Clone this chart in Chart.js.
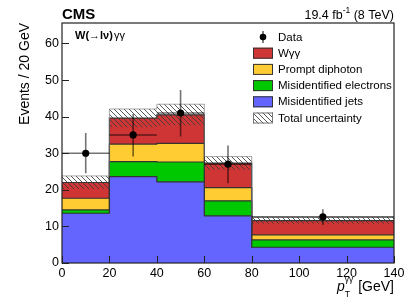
<!DOCTYPE html>
<html><head><meta charset="utf-8">
<script src="https://cdn.jsdelivr.net/npm/chart.js@4/dist/chart.umd.min.js"></script>
<style>html,body{margin:0;padding:0;background:#fff;}#wrap{width:415px;height:303px;}</style>
</head><body><div id="wrap"><canvas id="c" width="415" height="303"></canvas></div>
<script>
// ---- data ----
const binEdges = [0, 20, 40, 60, 80, 140];
const binCenters = [10, 30, 50, 70, 110];
const misidJets = [13.6, 23.6, 22.2, 12.9, 4.3];
const misidElectrons = [0.9, 4.1, 5.4, 4.1, 2.0];
const promptDiphoton = [3.2, 4.8, 5.1, 3.6, 1.4];
const wgg = [4.3, 7.1, 7.8, 6.7, 3.9];
const totalUnc = [1.8, 2.5, 2.9, 1.8, 0.9];
const dataY = [30.0, 35.0, 41.0, 27.0, 12.6];
const dataErrUp = [5.5, 5.7, 6.3, 5.1, 2.1];
const dataErrDown = [5.5, 5.9, 6.4, 5.2, 2.2];
const xTickStep = 20;
const yTickStep = 10;
const yMax = 65.6;
const legendLabels = ['Data', 'W\u03b3\u03b3', 'Prompt diphoton', 'Misidentified electrons', 'Misidentified jets', 'Total uncertainty'];

const colors = { wgg: '#d03535', prompt: '#ffcc33', ele: '#00c800', jets: '#6464ff' };
const FONT = '"Liberation Sans", Arial, Helvetica, sans-serif';

// cumulative stacks
const c1 = misidJets.slice();
const c2 = c1.map((v, i) => v + misidElectrons[i]);
const c3 = c2.map((v, i) => v + promptDiphoton[i]);
const c4 = c3.map((v, i) => v + wgg[i]);
const hi = c4.map((v, i) => v + totalUnc[i]);
const lo = c4.map((v, i) => v - totalUnc[i]);
const steps = vals => binEdges.map((x, i) => ({ x: x, y: vals[Math.min(i, vals.length - 1)] }));

const canvas = document.getElementById('c');
const ctx0 = canvas.getContext('2d');
function makeHatch(color) {
  const s = 5, c = document.createElement('canvas');
  c.width = s; c.height = s;
  const g = c.getContext('2d');
  g.strokeStyle = color; g.lineWidth = 1;
  g.beginPath();
  g.moveTo(-1, -1); g.lineTo(s + 1, s + 1);
  g.moveTo(-1, s - 1); g.lineTo(1, s + 1);
  g.moveTo(s - 1, -1); g.lineTo(s + 1, 1);
  g.stroke();
  return ctx0.createPattern(c, 'repeat');
}
const hatch = makeHatch('rgba(60,60,60,0.85)');

const histDs = (label, vals, color, order) => ({
  label: label, data: steps(vals), stepped: true, fill: 'origin',
  backgroundColor: color, borderColor: '#333', borderWidth: 1.2,
  pointRadius: 0, order: order
});

const errorBars = {
  id: 'errorBars',
  beforeDatasetDraw(chart, args) {
    if (args.index !== 0) return;
    const x = chart.scales.x, y = chart.scales.y, ctx = chart.ctx;
    ctx.save();
    ctx.strokeStyle = 'rgba(0,0,0,0.55)';
    ctx.lineWidth = 1.6;
    ctx.beginPath();
    for (let i = 0; i < dataY.length; i++) {
      const px = x.getPixelForValue(binCenters[i]);
      const py = y.getPixelForValue(dataY[i]);
      ctx.moveTo(x.getPixelForValue(binEdges[i]), py);
      ctx.lineTo(x.getPixelForValue(binEdges[i + 1]), py);
      ctx.moveTo(px, y.getPixelForValue(dataY[i] + dataErrUp[i]));
      ctx.lineTo(px, y.getPixelForValue(dataY[i] - dataErrDown[i]));
    }
    ctx.stroke();
    ctx.restore();
  }
};

const decor = {
  id: 'decor',
  afterDraw(chart) {
    const ctx = chart.ctx, a = chart.chartArea, xs = chart.scales.x, ys = chart.scales.y;
    ctx.save();
    // inward ticks
    ctx.strokeStyle = '#222'; ctx.lineWidth = 1;
    ctx.beginPath();
    for (let v = 0; v <= 140; v += xTickStep) {
      const px = Math.round(xs.getPixelForValue(v)) + 0.5;
      ctx.moveTo(px, a.bottom); ctx.lineTo(px, a.bottom - 7);
    }
    for (let v = 0; v <= 60; v += yTickStep) {
      const py = Math.round(ys.getPixelForValue(v)) + 0.5;
      ctx.moveTo(a.left, py); ctx.lineTo(a.left + 7, py);
    }
    ctx.stroke();
    // frame
    ctx.strokeStyle = '#222'; ctx.lineWidth = 1.2;
    ctx.strokeRect(a.left, a.top, a.right - a.left, a.bottom - a.top);

    // header
    ctx.fillStyle = '#000';
    ctx.textBaseline = 'alphabetic';
    ctx.font = 'bold 15px ' + FONT;
    ctx.textAlign = 'left';
    ctx.fillText('CMS', a.left, 19);
    // lumi
    ctx.font = '12.5px ' + FONT;
    const t3 = ' (8 TeV)';
    const w3 = ctx.measureText(t3).width;
    ctx.font = '8.5px ' + FONT;
    const w2 = ctx.measureText('-1').width;
    ctx.font = '12.5px ' + FONT;
    const t1 = '19.4 fb';
    const w1 = ctx.measureText(t1).width;
    let lx = a.right - w3 - w2 - w1;
    ctx.fillText(t1, lx, 19);
    ctx.font = '8.5px ' + FONT;
    ctx.fillText('-1', lx + w1, 13);
    ctx.font = '12.5px ' + FONT;
    ctx.fillText(t3, lx + w1 + w2, 19);

    // process label
    ctx.font = 'bold 11px ' + FONT;
    const pl = 'W(\u2192l\u03bd)';
    ctx.fillText(pl, 75, 39);
    const pw = ctx.measureText(pl).width;
    ctx.font = '11px ' + FONT;
    ctx.fillText('\u03b3\u03b3', 75 + pw + 1, 39);

    // y-axis title
    ctx.save();
    ctx.translate(29, a.top);
    ctx.rotate(-Math.PI / 2);
    ctx.font = '14px ' + FONT;
    ctx.textAlign = 'right';
    ctx.fillText('Events / 20 GeV', 0, 0);
    ctx.restore();

    // x-axis title: p_T^{γγ} [GeV]
    ctx.font = '14px ' + FONT;
    const g = ' [GeV]';
    const gw = ctx.measureText(g).width;
    const gx = a.right - gw;
    ctx.fillText(g, gx, 291);
    ctx.font = '8.5px ' + FONT;
    const supw = ctx.measureText('\u03b3\u03b3').width;
    ctx.fillText('\u03b3\u03b3', gx - supw - 1, 282);
    ctx.fillText('T', gx - supw - 1, 297);
    ctx.font = 'italic 14px ' + FONT;
    const ppw = ctx.measureText('p').width;
    ctx.fillText('p', gx - supw - 1 - ppw, 291);

    // legend
    const lxBox = 253, bw = 20, bh = 11, tx = 278, y0 = 37, dy = 16.2;
    ctx.font = '11.5px ' + FONT;
    ctx.textBaseline = 'middle';
    ctx.textAlign = 'left';
    const boxes = [null, colors.wgg, colors.prompt, colors.ele, colors.jets, hatch];
    for (let i = 0; i < legendLabels.length; i++) {
      const cy = y0 + i * dy;
      if (i === 0) {
        ctx.fillStyle = '#000';
        ctx.beginPath(); ctx.arc(lxBox + bw / 2, cy, 3.3, 0, Math.PI * 2); ctx.fill();
        ctx.strokeStyle = '#000'; ctx.lineWidth = 1;
        ctx.beginPath(); ctx.moveTo(lxBox + bw / 2, cy - 6); ctx.lineTo(lxBox + bw / 2, cy + 6); ctx.stroke();
      } else {
        ctx.fillStyle = boxes[i];
        ctx.fillRect(lxBox, cy - bh / 2, bw, bh);
        ctx.strokeStyle = i === 5 ? '#777' : '#333'; ctx.lineWidth = 1;
        ctx.strokeRect(lxBox + 0.5, cy - bh / 2 + 0.5, bw - 1, bh - 1);
      }
      ctx.fillStyle = '#000';
      ctx.fillText(legendLabels[i], tx, cy + 0.5);
    }
    ctx.restore();
  }
};

new Chart(canvas, {
  type: 'line',
  data: {
    datasets: [
      { label: 'Data', data: binCenters.map((x, i) => ({ x: x, y: dataY[i] })), showLine: false,
        pointRadius: 3.6, pointBackgroundColor: '#000', pointBorderColor: '#000', pointBorderWidth: 0, order: 0 },
      { label: 'uncLow', data: steps(lo), stepped: true, fill: false, borderWidth: 0, pointRadius: 0, order: 1 },
      { label: 'Total uncertainty', data: steps(hi), stepped: true, fill: { target: 1 }, backgroundColor: hatch,
        borderColor: 'rgba(120,120,120,0.8)', borderWidth: 0.8, pointRadius: 0, order: 1 },
      histDs('Misidentified jets', c1, colors.jets, 2),
      histDs('Misidentified electrons', c2, colors.ele, 3),
      histDs('Prompt diphoton', c3, colors.prompt, 4),
      histDs('W\u03b3\u03b3', c4, colors.wgg, 5)
    ]
  },
  options: {
    responsive: false, animation: false, devicePixelRatio: 1,
    layout: { padding: { left: 0, right: 21, top: 23, bottom: 0 } },
    plugins: { legend: { display: false }, tooltip: { enabled: false }, title: { display: false } },
    scales: {
      x: { type: 'linear', min: 0, max: 140,
        ticks: { stepSize: xTickStep, color: '#000', font: { size: 12.5, family: FONT }, padding: 3, maxRotation: 0, autoSkip: false, includeBounds: false },
        grid: { display: false, drawTicks: false }, border: { display: false },
        afterFit: s => { s.height = 40; } },
      y: { type: 'linear', min: 0, max: yMax,
        ticks: { stepSize: yTickStep, color: '#000', font: { size: 12.5, family: FONT }, padding: 3, includeBounds: false },
        grid: { display: false, drawTicks: false }, border: { display: false },
        afterFit: s => { s.width = 62; } }
    }
  },
  plugins: [errorBars, decor]
});
</script></body></html>
